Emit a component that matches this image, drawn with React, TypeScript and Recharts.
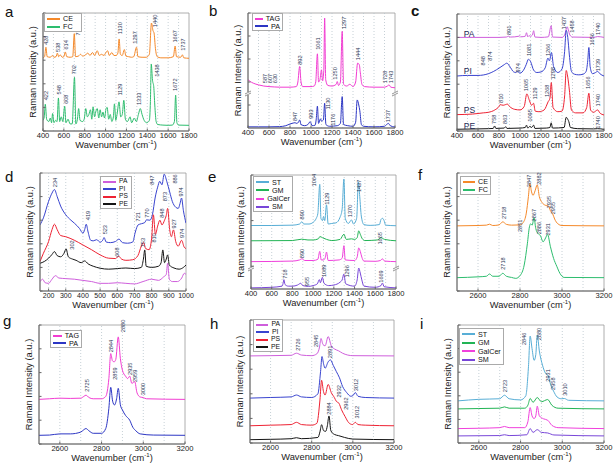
import React from 'react'
import { LineChart, Line, XAxis, YAxis, ReferenceArea, ReferenceDot, ReferenceLine } from 'recharts'

type P = [number, number]
type Note = [number, number, string]

// ---------- panel a : CE / FC, fingerprint ----------
const aCE: P[] = [[400,62],[415,63],[428,71],[440,63],[470,62.5],[490,64],[505,62.5],[525,63],[538,66],[550,63],[565,64.5],[585,62.5],[600,63],[614,67],[628,63],[660,62.5],[685,63],[700,82.5],[712,63],[740,63.5],[760,65],[780,63.5],[800,64],[830,66],[850,64],[875,66.5],[895,64],[920,68],[940,64],[960,65],[985,64],[1000,66],[1020,68],[1035,64],[1060,66.5],[1080,64],[1100,64],[1118,66],[1130,78],[1142,65],[1160,64],[1180,69],[1195,63.5],[1220,63],[1250,62.5],[1270,63],[1297,71],[1310,63],[1350,62.5],[1390,62.5],[1420,65],[1440,91.5],[1455,85],[1465,83],[1478,70],[1495,63],[1530,62],[1600,62],[1650,63],[1667,72],[1680,63],[1720,62.5],[1737,64.5],[1750,62],[1800,61.6]]
const aFC: P[] = [[400,9],[412,12],[422,22.7],[435,10],[455,8],[470,11],[482,7],[492,14.8],[505,7],[520,9],[535,8],[548,28],[560,8],[575,12],[590,8],[608,21],[620,7],[640,10],[660,6],[680,6],[702,45.5],[715,6],[730,10],[742,19],[755,9],[780,8],[795,10],[810,19],[825,12],[840,14],[855,18],[868,10],[880,20.5],[895,12],[905,16],[920,19],[935,11],[948,18],[962,12],[975,16],[990,11],[1005,19],[1015,20],[1030,10],[1045,14],[1060,8],[1075,12],[1085,23],[1098,9],[1110,14],[1129,24.7],[1145,12],[1160,14],[1175,26],[1190,10],[1210,8],[1235,12],[1250,7],[1275,11],[1295,8],[1315,14],[1333,19],[1350,14],[1370,9],[1395,7],[1420,9],[1430,25],[1438,56.8],[1450,43],[1462,37.5],[1472,22],[1485,8],[1500,5.5],[1550,5],[1600,4.8],[1640,5],[1660,8],[1672,30.4],[1684,7],[1700,5],[1800,4.8]]
const aNotes: Note[] = [[432,73,'428'],[545,67,'538'],[618,69,'614'],[735,81,'700'],[1135,82,'1130'],[1285,74,'1297'],[1478,88,'1440'],[1666,75,'1667'],[1742,68,'1737'],
  [432,26,'422'],[556,31,'548'],[617,23,'608'],[700,48,'702'],[1135,30,'1129'],[1320,22,'1333'],[1490,46,'1438'],[1666,34,'1672']]

// ---------- panel b : TAG / PA ----------
const bTAG: P[] = [[400,42],[420,40.5],[450,39],[500,37.5],[550,36.5],[600,36],[650,35.7],[700,35.5],[800,35.5],[860,36],[875,40],[892,53.5],[905,40],[920,36],[1000,36],[1030,36.5],[1045,40],[1061,64.5],[1072,40],[1085,42],[1100,50.6],[1110,41],[1122,50],[1130,95.6],[1140,42],[1160,37],[1200,36.5],[1240,38],[1250,40.4],[1262,37],[1280,40],[1297,84],[1310,38],[1340,36.5],[1370,38],[1400,36],[1425,40],[1444,56.4],[1460,55],[1470,48],[1485,38],[1510,36],[1600,35.5],[1700,35.5],[1728,36.5],[1743,37.5],[1760,35.5],[1800,35]]
const bPA: P[] = [[400,1],[500,1],[600,1],[700,1.2],[760,2],[800,3.5],[830,4.3],[847,4.6],[865,4],[880,5],[892,7],[905,3],[940,2],[970,3],[993,5.5],[1010,2],[1040,2.5],[1050,8],[1061,19],[1072,4],[1090,8],[1100,6],[1118,7],[1130,21.5],[1142,3],[1176,1.5],[1250,2],[1280,4],[1297,27.3],[1310,3],[1350,2],[1400,1.5],[1425,5],[1440,24.4],[1455,20],[1465,15],[1480,3],[1500,1.5],[1600,1],[1700,1.5],[1720,3],[1737,4],[1755,2],[1800,0.8]]
const bNotes: Note[] = [[560,39,'587'],[610,39,'607'],[660,39,'630'],[895,55,'892'],[1062,68,'1061'],[1225,42,'1250'],[1310,86,'1297'],[1450,59,'1444'],[1700,39,'1728'],[1765,39,'1743'],
  [845,6,'847'],[1000,8,'993'],[1165,16,'1130'],[1205,2,'1176'],[1732,5,'1737']]
const bBreaks: P[] = [[400,30],[1800,30]]

// ---------- panel c : PA / PI / PS / PE ----------
const cPA: P[] = [[400,80],[600,80],[800,80],[870,80.3],[891,81],[910,80.3],[990,81],[1000,81.5],[1010,80.5],[1050,81],[1062,84],[1074,80.5],[1085,81.5],[1100,81],[1118,82],[1130,85.7],[1142,80.3],[1200,80],[1270,80.5],[1297,90],[1310,80.3],[1400,80],[1425,82],[1440,87],[1450,89],[1460,86.5],[1475,82],[1500,80.3],[1700,80],[1740,80.7],[1800,80]]
const cPI: P[] = [[400,47],[500,47.5],[600,47.5],[700,49],[750,51],[800,53.7],[848,56.6],[875,58],[900,55.5],[940,50.5],[960,50],[974,51],[1000,49.5],[1040,53],[1060,57],[1081,61.4],[1100,59.5],[1130,52],[1160,50],[1200,50.5],[1240,54],[1266,62.3],[1280,60],[1300,67],[1320,55],[1360,50],[1400,53],[1425,68],[1440,86],[1455,80],[1470,65],[1490,51],[1520,48.5],[1560,48],[1600,48.5],[1630,51],[1645,60],[1656,71.4],[1668,55],[1690,49],[1720,50],[1739,51],[1760,49],[1800,47]]
const cPS: P[] = [[400,14],[550,14.5],[650,15.5],[700,16],[760,18],[800,21],[810,22.5],[840,22],[860,22.5],[880,23],[900,21],[950,18.5],[1000,18],[1040,21],[1065,31.7],[1090,26],[1110,22],[1129,23.7],[1145,17],[1180,16.5],[1230,18],[1268,25],[1285,28],[1298,41.4],[1315,20],[1360,16.5],[1400,17],[1425,30],[1440,51.7],[1455,46],[1470,35],[1490,18],[1530,15.5],[1600,15.5],[1635,20],[1656,32.3],[1672,18],[1700,16],[1740,18],[1760,15.5],[1800,13.7]]
const cPE: P[] = [[400,1.5],[600,1.8],[700,2],[745,2.2],[758,4.3],[770,2.2],[850,2.5],[863,3.7],[876,2.2],[1000,2.5],[1050,3],[1062,5],[1074,2.5],[1095,4],[1110,3],[1130,5],[1142,2.2],[1250,2.5],[1285,3],[1297,7],[1310,2.5],[1420,3],[1440,11.7],[1455,10],[1465,8],[1480,3],[1550,2],[1700,1.8],[1740,2],[1800,1.4]]
const cNotes: Note[] = [[897,82,'891'],[1420,87,'1437'],[1495,84,'1458'],[1740,82,'1740'],
  [650,56,'848'],[715,60,'874'],[985,50,'974'],[1082,64,'1081'],[1262,64,'1266'],[1690,73,'1656'],[1740,51,'1739'],
  [822,24,'810'],[1060,34,'1065'],[1140,27,'1129'],[1258,29,'1268'],[1318,44,'1298'],[1650,36,'1656'],[1740,21,'1740'],
  [755,6,'758'],[860,6,'863'],[1092,8,'1095'],[1740,2,'1740']]
const cNames: Note[] = [[465,83,'PA'],[465,51,'PI'],[465,18,'PS'],[465,4,'PE']]

// ---------- panel d : low wavenumber PA / PI / PS / PE ----------
const dPA: P[] = [[150,7.9],[165,10],[180,7],[200,6.5],[220,10],[240,13],[260,11],[300,10.5],[350,10],[400,9],[450,8],[500,6.5],[550,6.5],[600,7],[650,6.5],[700,6],[750,8],[800,10],[840,9],[870,12],[885,14],[893,23.5],[903,10],[920,8],[950,8],[975,11],[990,15],[1000,14]]
const dPI: P[] = [[150,56],[170,62],[200,76],[220,83],[234,86],[250,80],[270,72],[300,64.6],[330,60],[350,57.5],[380,53],[400,49],[410,52],[419,56.6],[430,50],[445,43],[460,42.5],[480,43.5],[500,41.4],[515,43],[523,45.3],[535,41.5],[560,41],[590,42],[610,44],[630,41],[660,40.5],[690,41.5],[705,50],[721,56],[740,57],[760,58],[770,60.3],[790,60],[805,65],[820,78.8],[835,88],[847,93],[860,90],[873,99],[888,93],[905,84],[920,76],[940,71],[955,70],[965,74],[974,78.8],[985,68],[1000,57.5]]
const dPS: P[] = [[150,25],[170,32],[200,42],[220,52],[234,56.6],[250,52],[270,47],[300,46],[350,43],[400,39],[450,35],[500,30.6],[550,27.8],[590,27.5],[608,29.5],[625,27],[650,26],[690,26.5],[720,30],[740,38],[753,41],[765,36],[785,35],[800,44.8],[810,64.6],[822,48],[835,55],[848,60],[860,56],[875,60],[885,64],[893,70],[905,52],[915,46],[927,51.8],[940,42],[955,38],[974,43],[990,37],[1000,36]]
const dPE: P[] = [[150,23.5],[175,25],[200,27.8],[220,31],[234,33.4],[250,30],[270,29],[290,32],[302,35.7],[315,29],[340,27],[360,26],[390,24],[410,25.5],[430,23],[460,21],[500,19.3],[550,18.5],[600,19],[650,19.5],[700,19],[740,20],[752,27],[760,34.8],[768,21],[800,20],[840,21],[855,24],[865,34.8],[875,24],[885,27],[893,30.6],[903,22],[930,19.5],[960,18.5],[985,20],[1000,22]]
const dNotes: Note[] = [[240,88,'234'],[428,60,'419'],[530,48,'523'],[720,59,'721'],[772,62,'770'],[802,90,'847'],[880,76,'873'],[938,91,'886'],[972,80,'974'],
  [335,35,'302'],[600,29,'608'],[748,37,'753'],[816,41,'810'],[860,62,'848'],[930,53,'927'],[976,45,'974']]

// ---------- panel e : ST / GM / GalCer / SM ----------
const eST: P[] = [[400,55.7],[600,55.7],[800,56],[870,57],[890,59],[910,57],[960,57],[1000,58.5],[1030,62],[1045,66],[1064,91.8],[1075,62],[1090,60],[1100,63.5],[1112,60],[1129,73.8],[1145,57],[1180,57.5],[1220,58],[1260,63],[1280,70],[1297,96.5],[1310,62],[1340,57.5],[1370,60.6],[1390,57],[1420,62],[1437,94],[1450,81],[1465,64],[1490,56.5],[1550,55.8],[1640,56.5],[1655,61],[1670,62],[1685,60],[1700,56],[1800,55.5]]
const eGM: P[] = [[400,42.3],[800,42.5],[890,43.7],[950,43],[1000,43],[1050,44],[1065,46],[1090,45],[1130,43.5],[1180,42.5],[1260,43.5],[1297,48],[1320,43.5],[1370,44],[1400,43.5],[1425,45],[1440,51],[1455,48],[1475,44],[1500,42.5],[1620,43],[1655,45],[1690,43.5],[1800,42.3]]
const eGal: P[] = [[400,24],[800,24.5],[870,25.5],[890,26.5],[920,25],[1000,25],[1045,26],[1064,33],[1078,25.5],[1100,25.5],[1115,27],[1129,32.4],[1145,25],[1250,25.5],[1280,27],[1297,38],[1310,25.5],[1400,25],[1425,28],[1440,36],[1455,33],[1470,28],[1490,24.5],[1600,24.3],[1650,25],[1668,26.5],[1690,24.5],[1800,24]]
const eSM: P[] = [[400,1],[600,1.5],[700,2.5],[710,5],[718,8.2],[728,4],[760,2.5],[800,2.5],[850,3.5],[880,5],[900,3],[955,2.3],[1000,3],[1040,4.5],[1060,8.2],[1070,5.5],[1089,10.2],[1105,5],[1150,3],[1200,3.5],[1260,6],[1280,8],[1296,13],[1315,4.5],[1400,2.5],[1425,8],[1440,18.4],[1455,14],[1470,8],[1490,2.5],[1600,1.5],[1655,3],[1669,5.2],[1685,2],[1800,1]]
const eNotes: Note[] = [[890,61,'890'],[1012,90,'1064'],[1129,74,'1129'],[1352,63,'1370'],[1445,85,'1437'],[1642,39,'1665'],
  [890,27,'890'],[729,9,'718'],[939,2.5,'955'],[1103,10.5,'1089'],[1326,10,'1296'],[1655,5.5,'1669']]
const eBreaks: P[] = [[400,18],[1800,18]]

// ---------- panel f : CE / FC, CH stretch ----------
const fCE: P[] = [[2500,55.2],[2600,55.5],[2640,55.8],[2655,56.6],[2670,55.5],[2700,56],[2718,58.6],[2735,56.5],[2760,55.8],[2800,56],[2815,58],[2830,66],[2840,80],[2847,91],[2855,84],[2862,81],[2872,85],[2882,90],[2892,80],[2905,75],[2920,72.7],[2935,72],[2945,68],[2955,65.6],[2965,61],[2980,57],[3000,55.5],[3100,55.3],[3200,55.2]]
const fFC: P[] = [[2500,11.3],[2600,12],[2640,12.5],[2655,14.4],[2670,12.5],[2700,12.5],[2718,15],[2735,12.5],[2760,11.5],[2780,10.7],[2800,13],[2820,22],[2835,40],[2845,54.4],[2851,57],[2858,55.8],[2867,62],[2875,53],[2886,48.7],[2897,47],[2910,41.7],[2922,45],[2931,48],[2945,37.5],[2960,27.6],[2975,21],[2990,15],[3010,11.5],[3200,11.3]]
const fNotes: Note[] = [[2722,61,'2718'],[2843,88,'2847'],[2891,90,'2882'],[2939,70,'2935'],[2959,65,'2955'],
  [2800,50,'2851'],[2865,59,'2867'],[2892,48,'2886'],[2932,47,'2931'],[2718,18,'2718']]

// ---------- panel g : TAG / PA, CH stretch ----------
const gTAG: P[] = [[2500,37.5],[2550,38],[2600,38.5],[2650,38.3],[2700,38.5],[2715,40],[2725,41],[2740,39],[2760,38],[2800,38],[2820,40],[2835,55],[2844,76],[2852,70],[2860,69],[2868,71],[2880,90],[2890,72],[2900,62],[2915,57],[2925,55],[2935,57],[2945,51],[2959,52.4],[2970,43],[2985,39.5],[3000,39],[3015,38],[3200,37.5]]
const gPA: P[] = [[2500,7.3],[2550,7.5],[2600,8.5],[2650,8.5],[2700,10],[2715,12],[2725,13],[2740,11],[2760,9],[2800,9],[2820,13],[2835,30],[2844,47.6],[2853,36],[2862,32.8],[2872,38],[2880,46.8],[2890,33],[2900,28.6],[2915,24],[2935,20],[2950,14],[2965,11],[2985,8.5],[3050,7.5],[3200,7.3]]
const gNotes: Note[] = [[2731,44,'2725'],[2844,77,'2844'],[2905,94,'2880'],[2866,54,'2859'],[2937,58,'2935'],[2961,52,'2959'],[3001,41,'3000']]

// ---------- panel h : PA / PI / PS / PE, CH stretch ----------
const hPA: P[] = [[2500,70.8],[2600,71],[2700,71.3],[2726,73],[2750,71.5],[2800,71],[2825,72.5],[2838,78],[2845,85],[2855,80],[2865,79],[2880,86.5],[2895,79],[2910,76.5],[2930,75],[2950,73],[2975,71.5],[3000,71],[3200,70.8]]
const hPI: P[] = [[2500,36.5],[2600,37],[2700,37.5],[2726,39],[2750,37.5],[2800,37],[2830,40],[2843,58],[2850,70.3],[2858,64],[2865,60.8],[2880,66],[2891,67.6],[2905,63],[2920,58],[2935,53],[2950,46],[2970,41],[2990,38],[3000,38.5],[3012,41],[3025,38],[3060,37],[3200,36.5]]
const hPS: P[] = [[2500,14],[2600,14.5],[2700,15],[2726,16.8],[2750,15],[2800,14.5],[2825,16],[2840,35],[2848,51],[2857,42],[2865,39],[2880,47.6],[2895,41],[2910,37],[2920,33.8],[2932,32.4],[2945,27],[2962,21.6],[2980,16.5],[2998,15],[3012,16.8],[3025,15],[3060,14.5],[3200,14]]
const hPE: P[] = [[2500,2.7],[2600,3],[2700,3.5],[2726,4.3],[2750,3.5],[2830,4.5],[2840,9],[2848,14.9],[2858,10],[2868,9.5],[2876,14],[2884,22],[2893,10],[2910,7],[2930,6],[2960,4.5],[3000,3.2],[3200,2.7]]
const hNotes: Note[] = [[2734,75,'2726'],[2823,78,'2845'],[2888,69,'2891'],[3013,42,'3012'],[2933,37,'2932'],[2969,27,'2962'],[3018,20,'3012'],[2883,23,'2884']]

// ---------- panel i : ST / GM / GalCer / SM, CH stretch ----------
const iST: P[] = [[2500,35.7],[2600,37],[2700,37.5],[2723,40.5],[2745,37.5],[2800,36.5],[2825,40],[2838,65],[2846,90.6],[2855,80],[2865,70],[2873,75],[2880,91.5],[2890,78],[2905,66],[2920,59],[2931,57.5],[2945,49],[2958,44],[2975,39],[2995,37.5],[3010,37.7],[3030,36.2],[3200,35.7]]
const iGM: P[] = [[2500,28.9],[2600,29.2],[2700,29.5],[2723,30.6],[2745,29.5],[2820,29.5],[2835,32],[2846,37.7],[2860,34.5],[2880,38.5],[2900,35],[2930,36.8],[2950,32],[2980,29.5],[3200,28.9]]
const iGal: P[] = [[2500,12.2],[2600,12.5],[2700,13],[2723,14],[2745,13],[2820,13],[2835,18],[2846,30],[2855,23],[2865,20.7],[2873,23],[2880,31.2],[2890,23],[2910,20.5],[2930,19.3],[2950,15],[2980,13],[3200,12.2]]
const iSM: P[] = [[2500,6],[2700,6.3],[2723,7],[2745,6.3],[2830,7],[2846,12.2],[2860,9],[2880,11.3],[2900,9],[2930,8.5],[2960,6.8],[3200,6]]
const iNotes: Note[] = [[2723,43,'2723'],[2818,83,'2846'],[2887,87,'2880'],[2931,52,'2931'],[2955,45,'2958'],[3011,40,'3010']]

// ---------- axis ticks ----------
const fingerTicks = [400, 600, 800, 1000, 1200, 1400, 1600, 1800]
const fingerGrid = [500, 600, 700, 800, 900, 1000, 1100, 1200, 1300, 1400, 1500, 1600, 1700]
const lowTicks = [200, 300, 400, 500, 600, 700, 800, 900, 1000]
const lowGrid = [200, 300, 400, 500, 600, 700, 800, 900]
const chTicks = [2600, 2800, 3000, 3200]
const chGrid = [2600, 2700, 2800, 2900, 3000, 3100]
const yTicks = [0, 20, 40, 60, 80, 100]

const C = {
  CE: '#f5892a', FC: '#2dbd6e', TAG: '#f23cd2', PAb: '#2c36c4', PAv: '#cf5edc',
  PI: '#3944cf', PS: '#ee2233', PE: '#151515', ST: '#58aed6', GM: '#22b455', Gal: '#f040dc', SM: '#7846d8',
}
const FONT = '"Liberation Sans", Arial, Helvetica, sans-serif'
const NOTE = '#2b3656'

interface S { name: string; color: string; pts: P[] }
interface Box { x0: number; y0: number; x1: number; y1: number }
interface LegendPos { x: number; y: number; w: number; h: number; fs?: number }

const toObj = (pts: P[]) => pts.map(([x, y]) => ({ x, y }))

const xTitle = (props: any) => {
  const vb = props.viewBox || {}
  return (
    <text x={vb.x + vb.width / 2} y={vb.y + 16.5} textAnchor="middle" fontSize={9.3} fill="#222" fontFamily={FONT}>
      <tspan>Wavenumber (cm</tspan>
      <tspan dy={-3.5} fontSize={6}>-1</tspan>
      <tspan dy={3.5}>)</tspan>
    </text>
  )
}

const yTitle = (props: any) => {
  const vb = props.viewBox || {}
  const cx = vb.x + vb.width - 7.5
  const cy = vb.y + vb.height / 2
  return (
    <text transform={`translate(${cx},${cy}) rotate(-90)`} textAnchor="middle" fontSize={9.3} fill="#222" fontFamily={FONT}>
      Raman Intensity (a.u.)
    </text>
  )
}

function Panel(props: {
  letter: string; lx: number; ly: number; box: Box; domain: [number, number]; ticks: number[]; grid: number[]
  series: S[]; notes: Note[]; names?: Note[]; breaks?: P[]; legend?: LegendPos; bold?: boolean; tickFont?: number
}) {
  const { box, domain, series, notes, names, legend } = props
  const ml = 40, mt = 12, mr = 9, mb = 20
  const W = box.x1 - box.x0 + ml + mr
  const H = box.y1 - box.y0 + mt + mb
  return (
    <>
      <div style={{ position: 'absolute', left: props.lx, top: props.ly - 13, fontSize: 15, lineHeight: '15px', fontFamily: FONT, fontWeight: props.bold ? 'bold' : 'normal', color: '#111' }}>
        {props.letter}
      </div>
      <div style={{ position: 'absolute', left: box.x0 - ml, top: box.y0 - mt }}>
        <LineChart width={W} height={H} margin={{ top: mt, right: mr, left: ml - 1, bottom: 0 }}>
          <XAxis type="number" dataKey="x" domain={domain} ticks={props.ticks} allowDataOverflow
            height={mb} tickSize={-2.5} tickMargin={4.5} stroke="#666" interval={0}
            tick={{ fontSize: props.tickFont || 7.6, fill: '#222', fontFamily: FONT }} label={{ content: xTitle }} />
          <YAxis type="number" domain={[0, 100]} ticks={yTicks} allowDataOverflow width={1}
            tickSize={-2.5} tick={() => null} stroke="#666" label={{ content: yTitle }} />
          {props.grid.map((g) => (
            <ReferenceLine key={g} x={g} stroke="#b8c4cc" strokeDasharray="1 2" strokeWidth={0.8} />
          ))}
          <ReferenceArea x1={domain[0]} x2={domain[1]} y1={0} y2={100} fill="none" stroke="#9a9a9a" strokeWidth={0.8} ifOverflow="visible" />
          {series.map((s) => (
            <Line key={s.name + s.color} data={toObj(s.pts)} dataKey="y" name={s.name} type="monotone"
              stroke={s.color} strokeWidth={1} dot={false} activeDot={false} isAnimationActive={false} />
          ))}
          {notes.map(([x, y, t], i) => (
            <ReferenceDot key={'n' + i} x={x} y={y} r={0} ifOverflow="visible"
              shape={(p: any) => (
                <text transform={`translate(${p.cx + 2},${p.cy}) rotate(-90)`} fontSize={5.6} fill={NOTE} fontFamily={FONT}>{t}</text>
              )} />
          ))}
          {(names || []).map(([x, y, t], i) => (
            <ReferenceDot key={'m' + i} x={x} y={y} r={0} ifOverflow="visible"
              shape={(p: any) => (
                <text x={p.cx} y={p.cy + 3} fontSize={8.5} fill="#1d2a55" fontFamily={FONT}>{t}</text>
              )} />
          ))}
          {(props.breaks || []).map(([x, y], i) => (
            <ReferenceDot key={'b' + i} x={x} y={y} r={0} ifOverflow="visible"
              shape={(p: any) => (
                <g>
                  <rect x={p.cx - 3} y={p.cy - 1.5} width={6} height={3} fill="#fff" />
                  <line x1={p.cx - 3} y1={p.cy + 0.5} x2={p.cx + 3} y2={p.cy - 2.5} stroke="#666" strokeWidth={0.7} />
                  <line x1={p.cx - 3} y1={p.cy + 2.5} x2={p.cx + 3} y2={p.cy - 0.5} stroke="#666" strokeWidth={0.7} />
                </g>
              )} />
          ))}
        </LineChart>
      </div>
      {legend && (
        <div style={{ position: 'absolute', left: legend.x, top: legend.y, width: legend.w, height: legend.h, boxSizing: 'border-box', border: '0.8px solid #aaa', background: '#fff', fontFamily: FONT, fontSize: legend.fs || 7.2, color: '#111', padding: '1px 2px' }}>
          {series.map((s) => (
            <div key={s.name} style={{ display: 'flex', alignItems: 'center', height: (legend.h - 3) / series.length, lineHeight: 1 }}>
              <span style={{ display: 'inline-block', width: 13, height: 2, background: s.color, marginRight: 3 }} />
              <span>{s.name}</span>
            </div>
          ))}
        </div>
      )}
    </>
  )
}

export default function App() {
  return (
    <div style={{ position: 'relative', width: 613, height: 469, background: '#fff', overflow: 'hidden' }}>
      <style>{'body{margin:0}'}</style>
      <Panel letter="a" lx={5} ly={17} box={{ x0: 43, y0: 13, x1: 189, y1: 131 }} domain={[400, 1800]} ticks={fingerTicks} grid={fingerGrid}
        series={[{ name: 'CE', color: C.CE, pts: aCE }, { name: 'FC', color: C.FC, pts: aFC }]} notes={aNotes}
        legend={{ x: 44, y: 13, w: 38, h: 19 }} />
      <Panel letter="b" lx={209} ly={16} box={{ x0: 248, y0: 13, x1: 395, y1: 128 }} domain={[400, 1800]} ticks={fingerTicks} grid={fingerGrid}
        series={[{ name: 'TAG', color: C.TAG, pts: bTAG }, { name: 'PA', color: C.PAb, pts: bPA }]} notes={bNotes} breaks={bBreaks}
        legend={{ x: 252, y: 13, w: 31, h: 18 }} />
      <Panel letter="c" lx={411} ly={16} bold box={{ x0: 457, y0: 14, x1: 604, y1: 131 }} domain={[400, 1800]} ticks={fingerTicks} grid={fingerGrid}
        series={[{ name: 'PA', color: C.PAv, pts: cPA }, { name: 'PI', color: C.PI, pts: cPI }, { name: 'PS', color: C.PS, pts: cPS }, { name: 'PE', color: C.PE, pts: cPE }]}
        notes={cNotes} names={cNames} />
      <Panel letter="d" lx={5} ly={182} box={{ x0: 40, y0: 173, x1: 186, y1: 291 }} domain={[150, 1000]} ticks={lowTicks} grid={lowGrid} tickFont={7}
        series={[{ name: 'PA', color: C.PAv, pts: dPA }, { name: 'PI', color: C.PI, pts: dPI }, { name: 'PS', color: C.PS, pts: dPS }, { name: 'PE', color: C.PE, pts: dPE }]}
        notes={dNotes} legend={{ x: 100, y: 176, w: 32, h: 33, fs: 6.6 }} />
      <Panel letter="e" lx={208} ly={182} box={{ x0: 251, y0: 175, x1: 396, y1: 289 }} domain={[400, 1800]} ticks={fingerTicks} grid={fingerGrid}
        series={[{ name: 'ST', color: C.ST, pts: eST }, { name: 'GM', color: C.GM, pts: eGM }, { name: 'GalCer', color: C.Gal, pts: eGal }, { name: 'SM', color: C.SM, pts: eSM }]}
        notes={eNotes} breaks={eBreaks} legend={{ x: 253, y: 176, w: 40, h: 36 }} />
      <Panel letter="f" lx={418} ly={180} box={{ x0: 457, y0: 173, x1: 604, y1: 291 }} domain={[2500, 3200]} ticks={chTicks} grid={chGrid}
        series={[{ name: 'CE', color: C.CE, pts: fCE }, { name: 'FC', color: C.FC, pts: fFC }]} notes={fNotes}
        legend={{ x: 460, y: 176, w: 31, h: 19 }} />
      <Panel letter="g" lx={3} ly={326} box={{ x0: 39, y0: 325, x1: 185, y1: 444 }} domain={[2500, 3200]} ticks={chTicks} grid={chGrid}
        series={[{ name: 'TAG', color: C.TAG, pts: gTAG }, { name: 'PA', color: C.PAb, pts: gPA }]} notes={gNotes}
        legend={{ x: 50, y: 330, w: 32, h: 18 }} />
      <Panel letter="h" lx={210} ly={329} box={{ x0: 250, y0: 320, x1: 394, y1: 443 }} domain={[2500, 3200]} ticks={chTicks} grid={chGrid}
        series={[{ name: 'PA', color: C.PAv, pts: hPA }, { name: 'PI', color: C.PI, pts: hPI }, { name: 'PS', color: C.PS, pts: hPS }, { name: 'PE', color: C.PE, pts: hPE }]}
        notes={hNotes} legend={{ x: 253, y: 319, w: 30, h: 33, fs: 6.8 }} />
      <Panel letter="i" lx={420} ly={329} box={{ x0: 458, y0: 325, x1: 604, y1: 443 }} domain={[2500, 3200]} ticks={chTicks} grid={chGrid}
        series={[{ name: 'ST', color: C.ST, pts: iST }, { name: 'GM', color: C.GM, pts: iGM }, { name: 'GalCer', color: C.Gal, pts: iGal }, { name: 'SM', color: C.SM, pts: iSM }]}
        notes={iNotes} legend={{ x: 459, y: 328, w: 45, h: 37 }} />
    </div>
  )
}
